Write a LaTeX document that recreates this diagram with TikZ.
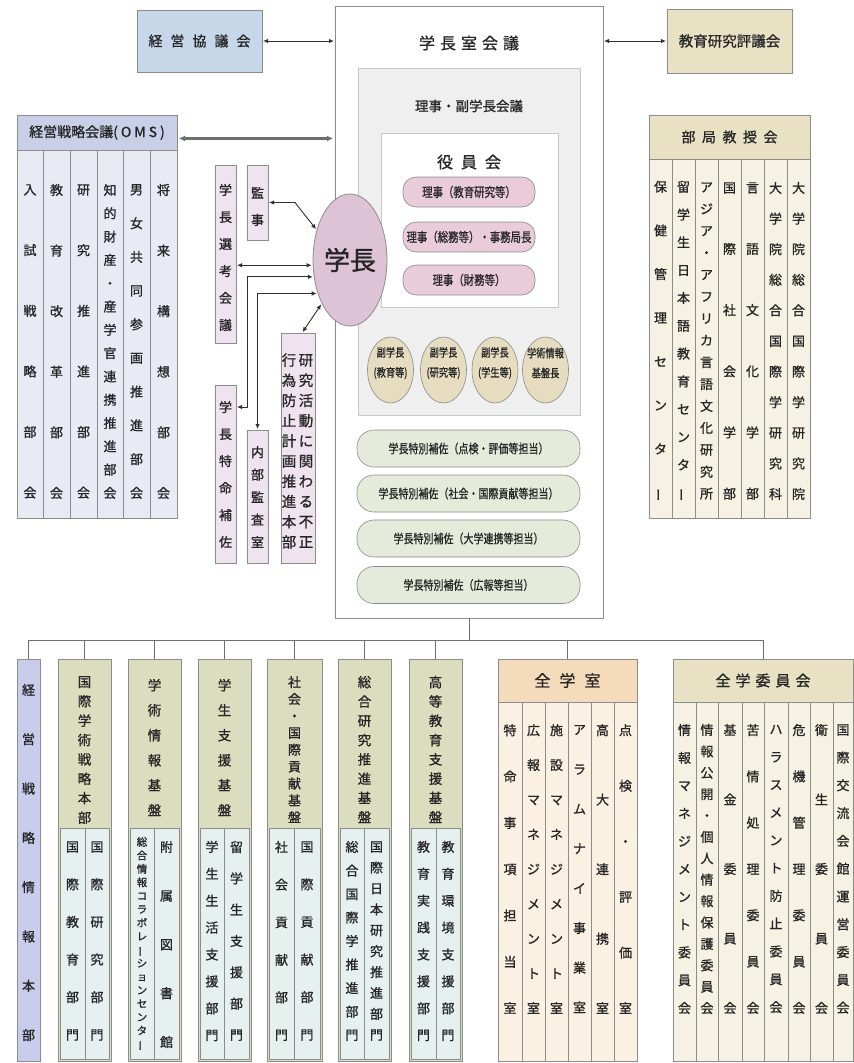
\documentclass[tikz,border=0pt]{standalone}
\usepackage{fontspec}
\setmainfont{Noto Sans CJK JP}[FakeBold=1.0]
\usepackage{graphicx}
\usetikzlibrary{arrows.meta,shapes.geometric}

\definecolor{bordergray}{HTML}{8C8C8C}
\definecolor{lightborder}{HTML}{C8C8C8}
\definecolor{txt}{HTML}{262626}
\definecolor{arrc}{HTML}{303030}
\definecolor{connc}{HTML}{6E6E6E}
\definecolor{kyoblue}{HTML}{C6D7EA}
\definecolor{tanhead}{HTML}{E9E1C3}
\definecolor{tancol}{HTML}{F5F2E3}
\definecolor{lavhead}{HTML}{C9CFE6}
\definecolor{lavcol}{HTML}{E8EAF4}
\definecolor{pinkbox}{HTML}{EEE3EE}
\definecolor{presfill}{HTML}{DEC2D6}
\definecolor{pillpink}{HTML}{EACBDA}
\definecolor{vpfill}{HTML}{E6DCC0}
\definecolor{greenpill}{HTML}{E4EBDA}
\definecolor{grayin}{HTML}{EFEFEF}
\definecolor{olivehead}{HTML}{DADDBE}
\definecolor{subcol}{HTML}{E6F0EF}
\definecolor{bluehead}{HTML}{C9CDEB}
\definecolor{peachhead}{HTML}{F4DBBB}
\definecolor{peachcol}{HTML}{FBF1E3}

\makeatletter
\newcommand\vt[1]{\vt@first#1\relax}
\def\vt@first#1{#1\vt@rest}
\def\vt@rest#1{\ifx\relax#1\expandafter\@gobble\else\expandafter\@firstofone\fi{\\#1\vt@rest}}
\makeatother
\newcommand\VB{\rotatebox[origin=c]{90}{ー}}
\newcommand\cond[1]{\scalebox{0.8}[1]{#1}}
\newcommand\VT[6]{\node[vtxt, font=\fontsize{#4}{#5}\selectfont] (#1) at (#2,#3) {\vt{#6}};}
\newcommand\bx[6]{\node[bxs, fill=#6, minimum width={(#4)-(#2)}, minimum height={(#5)-(#3)}] (#1) at (#2,#3) {};}

\tikzset{
  bxs/.style={draw=bordergray, line width=0.6pt, inner sep=0pt, outer sep=0pt, anchor=north west},
  vtxt/.style={align=center, inner sep=0pt, text=txt},
  ptxt/.style={inner sep=0pt, text=txt},
  conn/.style={draw=connc, line width=0.8pt},
  dbl/.style={draw=arrc, line width=0.9pt, {Latex[length=5pt,width=4.5pt]}-{Latex[length=5pt,width=4.5pt]}, shorten <=1pt, shorten >=1pt},
  dblthick/.style={draw=connc, line width=2.4pt, {Latex[length=6pt,width=6pt]}-{Latex[length=6pt,width=6pt]}, shorten <=2pt, shorten >=2pt},
  rpill/.style={draw=bordergray, line width=0.6pt, fill=pillpink, rounded corners=13pt, minimum width=132pt, minimum height=30pt, inner sep=0pt, text=txt, font=\fontsize{13}{13}\selectfont},
  gpill/.style={draw=bordergray, line width=0.6pt, fill=greenpill, rounded corners=17pt, minimum width=223pt, minimum height=37pt, inner sep=0pt, text=txt, font=\fontsize{12.5}{12.5}\selectfont},
  vpell/.style={ellipse, draw=bordergray, line width=0.6pt, fill=vpfill, minimum width=46pt, minimum height=66pt, inner sep=0pt},
  vptxt/.style={align=center, inner sep=0pt, text=txt, font=\fontsize{11.5}{20}\selectfont}
}

\begin{document}
\begin{tikzpicture}[x=1pt,y=-1pt]
\useasboundingbox (0,0) rectangle (854,1063);
\fill[white] (0,0) rectangle (854,1063);

% ---------- central block ----------
\bx{big}{335}{6}{603}{618}{white}
\node[ptxt, font=\fontsize{16}{16}\selectfont] (bigT) at (469,43) {学\hspace{5pt}長\hspace{5pt}室\hspace{5pt}会\hspace{5pt}議};
\node[bxs, draw=lightborder, fill=grayin, minimum width=222pt, minimum height=347pt] (riji) at (358,68) {};
\node[ptxt, font=\fontsize{13.5}{13.5}\selectfont] (rijiT) at (469,106) {理事・副学長会議};
\node[bxs, draw=lightborder, fill=white, minimum width=177pt, minimum height=174pt] (yakuin) at (381,133) {};
\node[ptxt, font=\fontsize{16}{16}\selectfont] (yakuinT) at (469,162) {役\hspace{8pt}員\hspace{8pt}会};
\node[rpill] (rj1) at (469,192) {\cond{理事（教育研究等）}};
\node[rpill] (rj2) at (469,237) {\cond{理事（総務等）・事務局長}};
\node[rpill] (rj3) at (469,280) {\cond{理事（財務等）}};

\node[vpell] (vp1) at (390.5,370) {};
\node[vpell] (vp2) at (443.5,370) {};
\node[vpell] (vp3) at (495,370) {};
\node[vpell] (vp4) at (545.5,370) {};
\node[vptxt] (vp1T) at (390.5,363) {\cond{副学長}\\\cond{(教育等)}};
\node[vptxt] (vp2T) at (443.5,363) {\cond{副学長}\\\cond{(研究等)}};
\node[vptxt] (vp3T) at (495,363) {\cond{副学長}\\\cond{(学生等)}};
\node[vptxt] (vp4T) at (545.5,363) {\cond{学術情報}\\\cond{基盤長}};

\node[gpill] (sp1) at (468.5,448.5) {\cond{学長特別補佐（点検・評価等担当）}};
\node[gpill] (sp2) at (468.5,493.5) {\cond{学長特別補佐（社会・国際貢献等担当）}};
\node[gpill] (sp3) at (468.5,538.5) {\cond{学長特別補佐（大学連携等担当）}};
\node[gpill] (sp4) at (468.5,585) {\cond{学長特別補佐（広報等担当）}};

% ---------- top boxes ----------
\bx{keiei}{137}{10}{262}{72}{kyoblue}
\node[ptxt, font=\fontsize{14}{14}\selectfont] (keieiT) at (keiei.center) {経\hspace{8pt}営\hspace{8pt}協\hspace{8pt}議\hspace{8pt}会};
\bx{hyogi}{667}{9}{792}{73}{tanhead}
\node[ptxt, font=\fontsize{14.5}{14.5}\selectfont] (hyogiT) at (hyogi.center) {教育研究評議会};
\draw[dbl] (keiei.east) -- (keiei.east -| big.west);
\draw[dbl] (big.east |- hyogi.west) -- (hyogi.west);

% ---------- OMS ----------
\bx{omsH}{17}{115}{177}{150}{lavhead}
\node[ptxt, font=\fontsize{14}{14}\selectfont] (omsHT) at (omsH.center) {経営戦略会議(\hspace{3pt}O\hspace{3pt}M\hspace{3pt}S\hspace{3pt})};
\bx{oms1}{17}{150}{43}{518}{lavcol}
\bx{oms2}{43}{150}{70}{518}{lavcol}
\bx{oms3}{70}{150}{97}{518}{lavcol}
\bx{oms4}{97}{150}{123}{518}{lavcol}
\bx{oms5}{123}{150}{150}{518}{lavcol}
\bx{oms6}{150}{150}{177}{518}{lavcol}
\VT{oms1T}{30}{341.5}{13}{60.6}{入試戦略部会}
\VT{oms2T}{56.5}{341.5}{13}{60.6}{教育改革部会}
\VT{oms3T}{83.5}{341.5}{13}{60.6}{研究推進部会}
\VT{oms4T}{110}{341.5}{13}{23.3}{知的財産・産学官連携推進部会}
\VT{oms5T}{136.5}{341.5}{13}{33.7}{男女共同参画推進部会}
\VT{oms6T}{163.5}{341.5}{13}{60.6}{将来構想部会}
\draw[dblthick] ([yshift=-6pt]omsH.east) -- ([yshift=-6pt]omsH.east -| big.west);

% ---------- left small boxes ----------
\bx{senko}{215}{165}{236}{343}{pinkbox}
\bx{kanji}{247}{165}{268}{240}{pinkbox}
\bx{tokumei}{215}{385}{236}{563}{pinkbox}
\bx{naibu}{247}{430}{268}{563}{pinkbox}
\bx{fusei}{281}{333}{315}{563}{pinkbox}
\VT{senkoT}{225.5}{257.5}{13}{27}{学長選考会議}
\VT{kanjiT}{257.5}{206.5}{13}{27}{監事}
\VT{tokumeiT}{225.5}{474.5}{13}{27}{学長特命補佐}
\VT{naibuT}{257.5}{497}{13}{22.5}{内部監査室}
\VT{fuseiR}{306}{451}{14.5}{20.2}{研究活動に関わる不正}
\VT{fuseiL}{289}{451}{14.5}{20.2}{行為防止計画推進本部}

% ---------- president ----------
\node[ellipse, draw=bordergray, line width=0.8pt, fill=presfill, minimum width=74pt, minimum height=132pt, inner sep=0pt, text=txt, font=\fontsize{26}{26}\selectfont] (pres) at (350,260) {学長};

\coordinate (tkY) at (0,407);
\draw[dbl] (kanji.east) -- ++(27,0) -- (pres.138);
\draw[dbl] (senko.east |- pres.188) -- (pres.188);
\draw[dbl] (pres.205) -| (naibu.west |- tkY) -- (tokumei.east |- tkY);
\draw[dbl] (pres.226) -| (naibu.north);
\draw[dbl] (pres.237) -- ([xshift=4pt]fusei.north);

% ---------- 部局教授会 ----------
\bx{bkH}{649}{115}{810}{159}{tanhead}
\node[ptxt, font=\fontsize{14}{14}\selectfont] (bkHT) at (bkH.center) {部\hspace{6.5pt}局\hspace{6.5pt}教\hspace{6.5pt}授\hspace{6.5pt}会};
\bx{bk1}{649}{159}{672}{518}{tancol}
\bx{bk2}{672}{159}{695}{518}{tancol}
\bx{bk3}{695}{159}{718}{518}{tancol}
\bx{bk4}{718}{159}{741}{518}{tancol}
\bx{bk5}{741}{159}{764}{518}{tancol}
\bx{bk6}{764}{159}{787}{518}{tancol}
\bx{bk7}{787}{159}{810}{518}{tancol}
\VT{bk1T}{660.5}{341}{13}{43.7}{保健管理センタ\VB}
\VT{bk2T}{683.5}{341}{13}{27.8}{留学生日本語教育センタ\VB}
\VT{bk3T}{706.5}{341}{13}{21.9}{アジア・アフリカ言語文化研究所}
\VT{bk4T}{729.5}{341}{13}{61.2}{国際社会学部}
\VT{bk5T}{752.5}{341}{13}{61.2}{言語文化学部}
\VT{bk6T}{775.5}{341}{13}{30.6}{大学院総合国際学研究科}
\VT{bk7T}{798.5}{341}{13}{30.6}{大学院総合国際学研究院}

% ---------- bottom row ----------
\bx{keijo}{17}{659}{40}{1061}{bluehead}
\VT{keijoT}{28.5}{862.5}{13}{49.3}{経営戦略情報本部}

\bx{b1}{58}{659}{111}{1061}{olivehead}
\bx{b1L}{60}{828}{85}{1059}{subcol}
\bx{b1R}{85}{828}{109}{1059}{subcol}
\VT{b1T}{84.5}{750}{13.5}{19.4}{国際学術戦略本部}
\VT{b1LT}{72.5}{941}{13}{37.6}{国際教育部門}
\VT{b1RT}{97}{941}{13}{37.6}{国際研究部門}

\bx{b2}{128}{659}{181}{1061}{olivehead}
\bx{b2L}{130}{828}{154}{1059}{subcol}
\bx{b2R}{154}{828}{179}{1059}{subcol}
\VT{b2T}{154.5}{747.5}{13.5}{25}{学術情報基盤}
\VT{b2LT}{142}{944}{10.5}{13.47}{総合情報コラボレ\VB ションセンタ\VB}
\VT{b2RT}{166.5}{944.5}{13}{48.75}{附属図書館}

\bx{b3}{198}{659}{251}{1061}{olivehead}
\bx{b3L}{200}{828}{224}{1059}{subcol}
\bx{b3R}{224}{828}{249}{1059}{subcol}
\VT{b3T}{224.5}{747.5}{13.5}{25}{学生支援基盤}
\VT{b3LT}{212}{941}{13}{26.9}{学生生活支援部門}
\VT{b3RT}{236.5}{941}{13}{31.3}{留学生支援部門}

\bx{b4}{267}{659}{322}{1061}{olivehead}
\bx{b4L}{269}{828}{294}{1059}{subcol}
\bx{b4R}{294}{828}{320}{1059}{subcol}
\VT{b4T}{294.5}{749.5}{13}{16.9}{社会・国際貢献基盤}
\VT{b4LT}{281.5}{941}{13}{37.6}{社会貢献部門}
\VT{b4RT}{307}{941}{13}{37.6}{国際貢献部門}

\bx{b5}{338}{659}{391}{1061}{olivehead}
\bx{b5L}{340}{828}{364}{1059}{subcol}
\bx{b5R}{364}{828}{389}{1059}{subcol}
\VT{b5T}{364.5}{749.5}{13.5}{19.3}{総合研究推進基盤}
\VT{b5LT}{352}{941}{13}{23.5}{総合国際学推進部門}
\VT{b5RT}{376.5}{941}{13}{20.9}{国際日本研究推進部門}

\bx{b6}{409}{659}{462}{1061}{olivehead}
\bx{b6L}{411}{828}{436}{1059}{subcol}
\bx{b6R}{436}{828}{460}{1059}{subcol}
\VT{b6T}{435.5}{749.5}{13.5}{19.3}{高等教育支援基盤}
\VT{b6LT}{423.5}{941}{13}{26.9}{教育実践支援部門}
\VT{b6RT}{448}{941}{13}{26.9}{教育環境支援部門}

% 全学室
\bx{zsH}{498}{659}{637}{702}{peachhead}
\node[ptxt, font=\fontsize{16}{16}\selectfont] (zsHT) at (zsH.center) {全\hspace{9pt}学\hspace{9pt}室};
\bx{zs1}{498}{702}{522}{1061}{peachcol}
\bx{zs2}{522}{702}{545}{1061}{peachcol}
\bx{zs3}{545}{702}{568}{1061}{peachcol}
\bx{zs4}{568}{702}{591}{1061}{peachcol}
\bx{zs5}{591}{702}{614}{1061}{peachcol}
\bx{zs6}{614}{702}{637}{1061}{peachcol}
\VT{zs1T}{510}{869}{13}{46.3}{特命事項担当室}
\VT{zs2T}{533.5}{869}{13}{34.75}{広報マネジメント室}
\VT{zs3T}{556.5}{869}{13}{34.75}{施設マネジメント室}
\VT{zs4T}{579.5}{869}{13}{39.7}{アラムナイ事業室}
\VT{zs5T}{602.5}{869}{13}{69.5}{高大連携室}
\VT{zs6T}{625.5}{869}{13}{55.6}{点検・評価室}

% 全学委員会
\bx{ziH}{673}{659}{853}{702}{tanhead}
\node[ptxt, font=\fontsize{15}{15}\selectfont] (ziHT) at (ziH.center) {全\hspace{5pt}学\hspace{5pt}委\hspace{5pt}員\hspace{5pt}会};
\bx{zi1}{673}{702}{696}{1061}{tancol}
\bx{zi2}{696}{702}{718}{1061}{tancol}
\bx{zi3}{718}{702}{742}{1061}{tancol}
\bx{zi4}{742}{702}{764}{1061}{tancol}
\bx{zi5}{764}{702}{788}{1061}{tancol}
\bx{zi6}{788}{702}{810}{1061}{tancol}
\bx{zi7}{810}{702}{833}{1061}{tancol}
\bx{zi8}{833}{702}{853}{1061}{tancol}
\VT{zi1T}{684.5}{869}{13}{27.8}{情報マネジメント委員会}
\VT{zi2T}{707}{869}{13}{21.4}{情報公開・個人情報保護委員会}
\VT{zi3T}{730}{869}{13}{69.5}{基金委員会}
\VT{zi4T}{753}{869}{13}{46.3}{苦情処理委員会}
\VT{zi5T}{776}{869}{13}{27.8}{ハラスメント防止委員会}
\VT{zi6T}{799}{869}{13}{46.3}{危機管理委員会}
\VT{zi7T}{821.5}{869}{13}{69.5}{衛生委員会}
\VT{zi8T}{843}{869}{13}{27.8}{国際交流会館運営委員会}

% ---------- bus ----------
\coordinate (bus) at (468,640);
\draw[conn] (big.south) -- (big.south |- bus);
\draw[conn] (keijo.north |- bus) -- (ziH.north |- bus);
\foreach \n in {keijo,b1,b2,b3,b4,b5,b6,zsH,ziH}
  \draw[conn] (\n.north |- bus) -- (\n.north);
\end{tikzpicture}
\end{document}
